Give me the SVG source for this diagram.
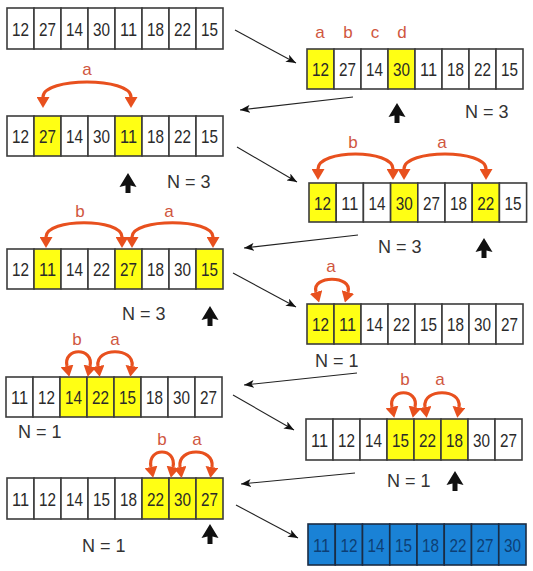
<svg xmlns="http://www.w3.org/2000/svg" xmlns:xlink="http://www.w3.org/1999/xlink" width="533" height="571" viewBox="0 0 533 571">
<style>
.c{fill:#fff;stroke:#3c3c3c;stroke-width:1.6}
.y{fill:#ffff14}
.bl{fill:#1a82d6;stroke:#1b2c44}
.num{font-family:"Liberation Sans",Arial,sans-serif;font-size:19px;fill:#2a2a2a;text-anchor:middle}
.bn{fill:#0d3f75}
.lbl{font-family:"Liberation Sans",Arial,sans-serif;font-size:17px;fill:#d0573f;text-anchor:middle}
.n{font-family:"Liberation Sans",Arial,sans-serif;font-size:18px;fill:#333}
.arc{fill:none;stroke:#e8501e;stroke-width:3.2;marker-start:url(#ah);marker-end:url(#ah)}
.con{fill:none;stroke:#222;stroke-width:1.1;marker-end:url(#ca)}
</style>
<defs>
<marker id="ah" viewBox="0 0 11 13" refX="0" refY="6.5" markerWidth="11" markerHeight="13" markerUnits="userSpaceOnUse" orient="auto-start-reverse"><path d="M0,0 L11,6.5 L0,13 Z" fill="#e8501e"/></marker>
<marker id="ca" viewBox="0 0 10 8" refX="10" refY="4" markerWidth="10" markerHeight="8" markerUnits="userSpaceOnUse" orient="auto"><path d="M0,0 L10,4 L0,8 L2.5,4 Z" fill="#111"/></marker>
<path id="up" d="M0,0 L8.5,14 L2.5,12.5 L2.5,20 L-2.5,20 L-2.5,12.5 L-8.5,14 Z" fill="#111"/>
</defs>

<g id="connectors">
<path class="con" d="M235,30 L296,63"/>
<path class="con" d="M353,97 L240,110"/>
<path class="con" d="M237,147 L297,182"/>
<path class="con" d="M358,235 L244,248"/>
<path class="con" d="M233,273 L296,307"/>
<path class="con" d="M357,373 L244,385"/>
<path class="con" d="M233,395 L294,430"/>
<path class="con" d="M355,473 L241,484"/>
<path class="con" d="M236,505 L298,538"/>
</g>

<g id="array1">
<rect class="c" x="7" y="8" width="27" height="41"/><rect class="c" x="34" y="8" width="27" height="41"/><rect class="c" x="61" y="8" width="27" height="41"/><rect class="c" x="88" y="8" width="27" height="41"/><rect class="c" x="115" y="8" width="27" height="41"/><rect class="c" x="142" y="8" width="27" height="41"/><rect class="c" x="169" y="8" width="27" height="41"/><rect class="c" x="196" y="8" width="27" height="41"/>
<text class="num" x="20.5" y="35.5" textLength="17" lengthAdjust="spacingAndGlyphs">12</text><text class="num" x="47.5" y="35.5" textLength="17" lengthAdjust="spacingAndGlyphs">27</text><text class="num" x="74.5" y="35.5" textLength="17" lengthAdjust="spacingAndGlyphs">14</text><text class="num" x="101.5" y="35.5" textLength="17" lengthAdjust="spacingAndGlyphs">30</text><text class="num" x="128.5" y="35.5" textLength="17" lengthAdjust="spacingAndGlyphs">11</text><text class="num" x="155.5" y="35.5" textLength="17" lengthAdjust="spacingAndGlyphs">18</text><text class="num" x="182.5" y="35.5" textLength="17" lengthAdjust="spacingAndGlyphs">22</text><text class="num" x="209.5" y="35.5" textLength="17" lengthAdjust="spacingAndGlyphs">15</text>
</g>

<g id="arrayA">
<rect class="c y" x="307" y="49" width="27" height="40"/><rect class="c" x="334" y="49" width="27" height="40"/><rect class="c" x="361" y="49" width="27" height="40"/><rect class="c y" x="388" y="49" width="27" height="40"/><rect class="c" x="415" y="49" width="27" height="40"/><rect class="c" x="442" y="49" width="27" height="40"/><rect class="c" x="469" y="49" width="27" height="40"/><rect class="c" x="496" y="49" width="27" height="40"/>
<text class="num" x="320.5" y="76" textLength="17" lengthAdjust="spacingAndGlyphs">12</text><text class="num" x="347.5" y="76" textLength="17" lengthAdjust="spacingAndGlyphs">27</text><text class="num" x="374.5" y="76" textLength="17" lengthAdjust="spacingAndGlyphs">14</text><text class="num" x="401.5" y="76" textLength="17" lengthAdjust="spacingAndGlyphs">30</text><text class="num" x="428.5" y="76" textLength="17" lengthAdjust="spacingAndGlyphs">11</text><text class="num" x="455.5" y="76" textLength="17" lengthAdjust="spacingAndGlyphs">18</text><text class="num" x="482.5" y="76" textLength="17" lengthAdjust="spacingAndGlyphs">22</text><text class="num" x="509.5" y="76" textLength="17" lengthAdjust="spacingAndGlyphs">15</text>
<text class="lbl" x="320" y="38">a</text><text class="lbl" x="348" y="38">b</text><text class="lbl" x="375" y="38">c</text><text class="lbl" x="402" y="38">d</text>
<use xlink:href="#up" x="397" y="103"/>
<text class="n" x="465" y="118">N = 3</text>
</g>

<g id="array2">
<rect class="c" x="7" y="116" width="27" height="40"/><rect class="c y" x="34" y="116" width="27" height="40"/><rect class="c" x="61" y="116" width="27" height="40"/><rect class="c" x="88" y="116" width="27" height="40"/><rect class="c y" x="115" y="116" width="27" height="40"/><rect class="c" x="142" y="116" width="27" height="40"/><rect class="c" x="169" y="116" width="27" height="40"/><rect class="c" x="196" y="116" width="27" height="40"/>
<text class="num" x="20.5" y="143" textLength="17" lengthAdjust="spacingAndGlyphs">12</text><text class="num" x="47.5" y="143" textLength="17" lengthAdjust="spacingAndGlyphs">27</text><text class="num" x="74.5" y="143" textLength="17" lengthAdjust="spacingAndGlyphs">14</text><text class="num" x="101.5" y="143" textLength="17" lengthAdjust="spacingAndGlyphs">30</text><text class="num" x="128.5" y="143" textLength="17" lengthAdjust="spacingAndGlyphs">11</text><text class="num" x="155.5" y="143" textLength="17" lengthAdjust="spacingAndGlyphs">18</text><text class="num" x="182.5" y="143" textLength="17" lengthAdjust="spacingAndGlyphs">22</text><text class="num" x="209.5" y="143" textLength="17" lengthAdjust="spacingAndGlyphs">15</text>
<path class="arc" d="M43,97 C43,77 131,77 131,97"/>
<text class="lbl" x="87" y="75">a</text>
<use xlink:href="#up" x="128" y="173"/>
<text class="n" x="167" y="188">N = 3</text>
</g>

<g id="arrayB">
<rect class="c y" x="309" y="183" width="27.2" height="39"/><rect class="c" x="336.2" y="183" width="27.2" height="39"/><rect class="c" x="363.4" y="183" width="27.2" height="39"/><rect class="c y" x="390.6" y="183" width="27.2" height="39"/><rect class="c" x="417.8" y="183" width="27.2" height="39"/><rect class="c" x="445" y="183" width="27.2" height="39"/><rect class="c y" x="472.2" y="183" width="27.2" height="39"/><rect class="c" x="499.4" y="183" width="27.2" height="39"/>
<text class="num" x="322.6" y="209.5" textLength="17" lengthAdjust="spacingAndGlyphs">12</text><text class="num" x="349.8" y="209.5" textLength="17" lengthAdjust="spacingAndGlyphs">11</text><text class="num" x="377" y="209.5" textLength="17" lengthAdjust="spacingAndGlyphs">14</text><text class="num" x="404.2" y="209.5" textLength="17" lengthAdjust="spacingAndGlyphs">30</text><text class="num" x="431.4" y="209.5" textLength="17" lengthAdjust="spacingAndGlyphs">27</text><text class="num" x="458.6" y="209.5" textLength="17" lengthAdjust="spacingAndGlyphs">18</text><text class="num" x="485.8" y="209.5" textLength="17" lengthAdjust="spacingAndGlyphs">22</text><text class="num" x="513" y="209.5" textLength="17" lengthAdjust="spacingAndGlyphs">15</text>
<path class="arc" d="M393,169 C393,149 318,149 318,169"/>
<path class="arc" d="M404,169 C404,149 486,149 486,169"/>
<text class="lbl" x="353" y="148">b</text><text class="lbl" x="442" y="148">a</text>
<use xlink:href="#up" x="484" y="238"/>
<text class="n" x="378" y="253">N = 3</text>
</g>

<g id="arrayC">
<rect class="c" x="7" y="249" width="27" height="40"/><rect class="c y" x="34" y="249" width="27" height="40"/><rect class="c" x="61" y="249" width="27" height="40"/><rect class="c" x="88" y="249" width="27" height="40"/><rect class="c y" x="115" y="249" width="27" height="40"/><rect class="c" x="142" y="249" width="27" height="40"/><rect class="c" x="169" y="249" width="27" height="40"/><rect class="c y" x="196" y="249" width="27" height="40"/>
<text class="num" x="20.5" y="276" textLength="17" lengthAdjust="spacingAndGlyphs">12</text><text class="num" x="47.5" y="276" textLength="17" lengthAdjust="spacingAndGlyphs">11</text><text class="num" x="74.5" y="276" textLength="17" lengthAdjust="spacingAndGlyphs">14</text><text class="num" x="101.5" y="276" textLength="17" lengthAdjust="spacingAndGlyphs">22</text><text class="num" x="128.5" y="276" textLength="17" lengthAdjust="spacingAndGlyphs">27</text><text class="num" x="155.5" y="276" textLength="17" lengthAdjust="spacingAndGlyphs">18</text><text class="num" x="182.5" y="276" textLength="17" lengthAdjust="spacingAndGlyphs">30</text><text class="num" x="209.5" y="276" textLength="17" lengthAdjust="spacingAndGlyphs">15</text>
<path class="arc" d="M122,237 C122,218 46,218 46,237"/>
<path class="arc" d="M132,237 C132,218 213,218 213,237"/>
<text class="lbl" x="80" y="217">b</text><text class="lbl" x="169" y="217">a</text>
<use xlink:href="#up" x="210" y="306"/>
<text class="n" x="122" y="320">N = 3</text>
</g>

<g id="arrayD">
<rect class="c y" x="307" y="304" width="27" height="40"/><rect class="c y" x="334" y="304" width="27" height="40"/><rect class="c" x="361" y="304" width="27" height="40"/><rect class="c" x="388" y="304" width="27" height="40"/><rect class="c" x="415" y="304" width="27" height="40"/><rect class="c" x="442" y="304" width="27" height="40"/><rect class="c" x="469" y="304" width="27" height="40"/><rect class="c" x="496" y="304" width="27" height="40"/>
<text class="num" x="320.5" y="331" textLength="17" lengthAdjust="spacingAndGlyphs">12</text><text class="num" x="347.5" y="331" textLength="17" lengthAdjust="spacingAndGlyphs">11</text><text class="num" x="374.5" y="331" textLength="17" lengthAdjust="spacingAndGlyphs">14</text><text class="num" x="401.5" y="331" textLength="17" lengthAdjust="spacingAndGlyphs">22</text><text class="num" x="428.5" y="331" textLength="17" lengthAdjust="spacingAndGlyphs">15</text><text class="num" x="455.5" y="331" textLength="17" lengthAdjust="spacingAndGlyphs">18</text><text class="num" x="482.5" y="331" textLength="17" lengthAdjust="spacingAndGlyphs">30</text><text class="num" x="509.5" y="331" textLength="17" lengthAdjust="spacingAndGlyphs">27</text>
<path class="arc" d="M316,292 C311,275 353,275 348,292"/>
<text class="lbl" x="331" y="272">a</text>
<text class="n" x="315" y="367">N = 1</text>
</g>

<g id="arrayE">
<rect class="c" x="6" y="377" width="27" height="40"/><rect class="c" x="33" y="377" width="27" height="40"/><rect class="c y" x="60" y="377" width="27" height="40"/><rect class="c y" x="87" y="377" width="27" height="40"/><rect class="c y" x="114" y="377" width="27" height="40"/><rect class="c" x="141" y="377" width="27" height="40"/><rect class="c" x="168" y="377" width="27" height="40"/><rect class="c" x="195" y="377" width="27" height="40"/>
<text class="num" x="19.5" y="404" textLength="17" lengthAdjust="spacingAndGlyphs">11</text><text class="num" x="46.5" y="404" textLength="17" lengthAdjust="spacingAndGlyphs">12</text><text class="num" x="73.5" y="404" textLength="17" lengthAdjust="spacingAndGlyphs">14</text><text class="num" x="100.5" y="404" textLength="17" lengthAdjust="spacingAndGlyphs">22</text><text class="num" x="127.5" y="404" textLength="17" lengthAdjust="spacingAndGlyphs">15</text><text class="num" x="154.5" y="404" textLength="17" lengthAdjust="spacingAndGlyphs">18</text><text class="num" x="181.5" y="404" textLength="17" lengthAdjust="spacingAndGlyphs">30</text><text class="num" x="208.5" y="404" textLength="17" lengthAdjust="spacingAndGlyphs">27</text>
<path class="arc" d="M67,366 C63,347 94,347 90,366"/>
<path class="arc" d="M98,366 C95,347 135,347 132,366"/>
<text class="lbl" x="77" y="345">b</text><text class="lbl" x="115" y="345">a</text>
<text class="n" x="18" y="438">N = 1</text>
</g>

<g id="arrayF">
<rect class="c" x="306" y="419" width="27" height="41"/><rect class="c" x="333" y="419" width="27" height="41"/><rect class="c" x="360" y="419" width="27" height="41"/><rect class="c y" x="387" y="419" width="27" height="41"/><rect class="c y" x="414" y="419" width="27" height="41"/><rect class="c y" x="441" y="419" width="27" height="41"/><rect class="c" x="468" y="419" width="27" height="41"/><rect class="c" x="495" y="419" width="27" height="41"/>
<text class="num" x="319.5" y="446.5" textLength="17" lengthAdjust="spacingAndGlyphs">11</text><text class="num" x="346.5" y="446.5" textLength="17" lengthAdjust="spacingAndGlyphs">12</text><text class="num" x="373.5" y="446.5" textLength="17" lengthAdjust="spacingAndGlyphs">14</text><text class="num" x="400.5" y="446.5" textLength="17" lengthAdjust="spacingAndGlyphs">15</text><text class="num" x="427.5" y="446.5" textLength="17" lengthAdjust="spacingAndGlyphs">22</text><text class="num" x="454.5" y="446.5" textLength="17" lengthAdjust="spacingAndGlyphs">18</text><text class="num" x="481.5" y="446.5" textLength="17" lengthAdjust="spacingAndGlyphs">30</text><text class="num" x="508.5" y="446.5" textLength="17" lengthAdjust="spacingAndGlyphs">27</text>
<path class="arc" d="M392,407 C388,388 419,388 415,407"/>
<path class="arc" d="M425,407 C422,388 462,388 459,407"/>
<text class="lbl" x="405" y="385">b</text><text class="lbl" x="440" y="385">a</text>
<use xlink:href="#up" x="455" y="471"/>
<text class="n" x="387" y="487">N = 1</text>
</g>

<g id="arrayG">
<rect class="c" x="7" y="478" width="27" height="41"/><rect class="c" x="34" y="478" width="27" height="41"/><rect class="c" x="61" y="478" width="27" height="41"/><rect class="c" x="88" y="478" width="27" height="41"/><rect class="c" x="115" y="478" width="27" height="41"/><rect class="c y" x="142" y="478" width="27" height="41"/><rect class="c y" x="169" y="478" width="27" height="41"/><rect class="c y" x="196" y="478" width="27" height="41"/>
<text class="num" x="20.5" y="505.5" textLength="17" lengthAdjust="spacingAndGlyphs">11</text><text class="num" x="47.5" y="505.5" textLength="17" lengthAdjust="spacingAndGlyphs">12</text><text class="num" x="74.5" y="505.5" textLength="17" lengthAdjust="spacingAndGlyphs">14</text><text class="num" x="101.5" y="505.5" textLength="17" lengthAdjust="spacingAndGlyphs">15</text><text class="num" x="128.5" y="505.5" textLength="17" lengthAdjust="spacingAndGlyphs">18</text><text class="num" x="155.5" y="505.5" textLength="17" lengthAdjust="spacingAndGlyphs">22</text><text class="num" x="182.5" y="505.5" textLength="17" lengthAdjust="spacingAndGlyphs">30</text><text class="num" x="209.5" y="505.5" textLength="17" lengthAdjust="spacingAndGlyphs">27</text>
<path class="arc" d="M151,467 C147,447 177,447 173,467"/>
<path class="arc" d="M180,467 C177,447 215,447 212,467"/>
<text class="lbl" x="162" y="445">b</text><text class="lbl" x="197" y="445">a</text>
<use xlink:href="#up" x="210" y="524"/>
<text class="n" x="82" y="552">N = 1</text>
</g>

<g id="arrayH">
<rect class="c bl" x="308" y="524" width="27.25" height="41"/><rect class="c bl" x="335.25" y="524" width="27.25" height="41"/><rect class="c bl" x="362.5" y="524" width="27.25" height="41"/><rect class="c bl" x="389.75" y="524" width="27.25" height="41"/><rect class="c bl" x="417" y="524" width="27.25" height="41"/><rect class="c bl" x="444.25" y="524" width="27.25" height="41"/><rect class="c bl" x="471.5" y="524" width="27.25" height="41"/><rect class="c bl" x="498.75" y="524" width="27.25" height="41"/>
<text class="num bn" x="321.6" y="551.5" textLength="17" lengthAdjust="spacingAndGlyphs">11</text><text class="num bn" x="348.9" y="551.5" textLength="17" lengthAdjust="spacingAndGlyphs">12</text><text class="num bn" x="376.1" y="551.5" textLength="17" lengthAdjust="spacingAndGlyphs">14</text><text class="num bn" x="403.4" y="551.5" textLength="17" lengthAdjust="spacingAndGlyphs">15</text><text class="num bn" x="430.6" y="551.5" textLength="17" lengthAdjust="spacingAndGlyphs">18</text><text class="num bn" x="457.9" y="551.5" textLength="17" lengthAdjust="spacingAndGlyphs">22</text><text class="num bn" x="485.1" y="551.5" textLength="17" lengthAdjust="spacingAndGlyphs">27</text><text class="num bn" x="512.4" y="551.5" textLength="17" lengthAdjust="spacingAndGlyphs">30</text>
</g>
</svg>
